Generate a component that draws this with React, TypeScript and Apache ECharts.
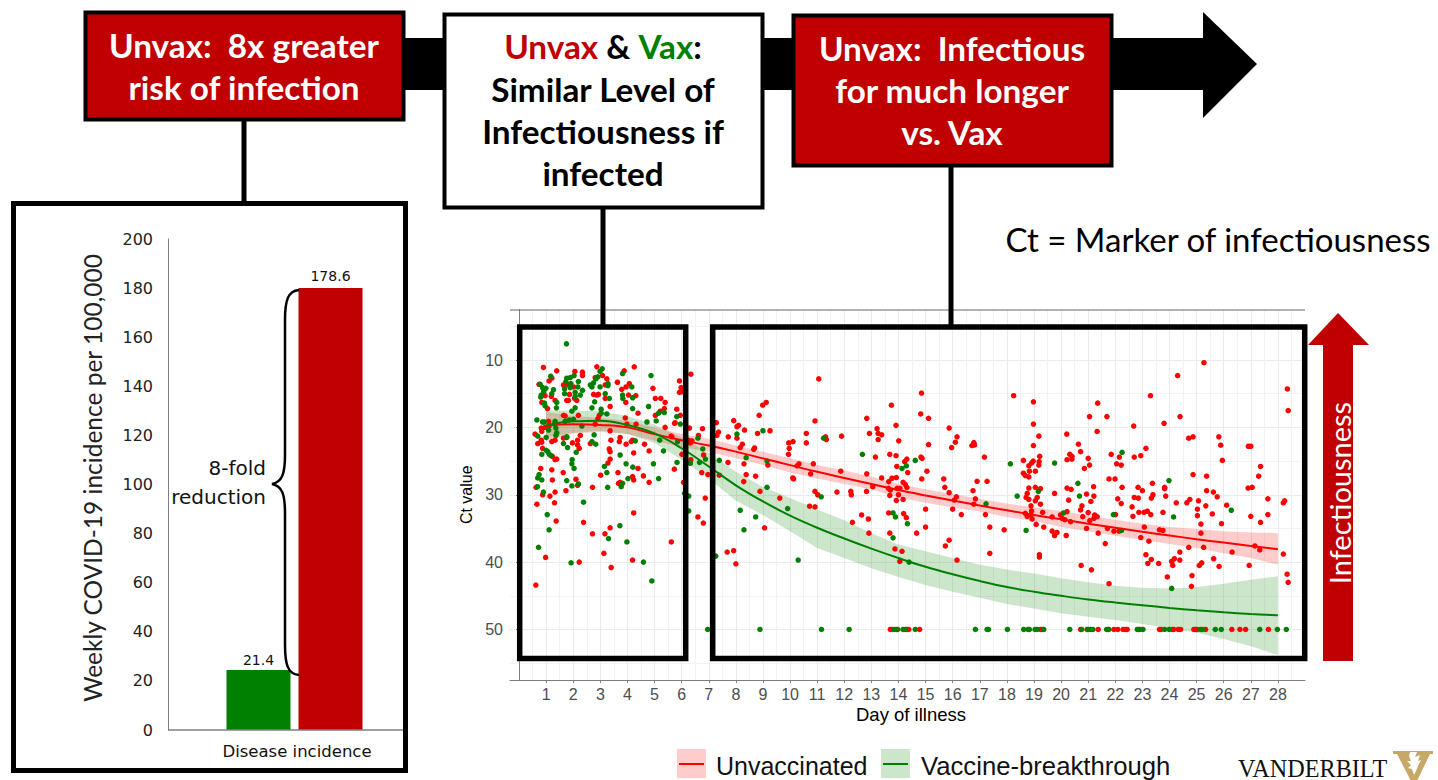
import React, { useEffect, useRef } from "react";
import * as echarts from "echarts";

const barCategories = ["Disease incidence"];
// Bar heights as drawn in the picture; the printed labels differ slightly.
const vaxBarHeight = [24.4];
const unvaxBarHeight = [180];
const vaxBarLabel = ["21.4"];
const unvaxBarLabel = ["178.6"];
const dayTicks = [1,2,3,4,5,6,7,8,9,10,11,12,13,14,15,16,17,18,19,20,21,22,23,24,25,26,27,28];
const dayMinor = [0.5,1.5,2.5,3.5,4.5,5.5,6.5,7.5,8.5,9.5,10.5,11.5,12.5,13.5,14.5,15.5,16.5,17.5,18.5,19.5,20.5,21.5,22.5,23.5,24.5,25.5,26.5,27.5,28.5];
const ctTicks = [10,20,30,40,50];
const ctMinor = [5,15,25,35,45,55];

const unvaxLine = [[1,19.7],[2,19.55],[3,19.65],[4,20],[5,21],[6,21.9],[7,22.7],[8,23.6],[9,24.6],[10,25.6],[11,26.6],[12,27.5],[13,28.4],[14,29.3],[15,30.1],[16,30.85],[17,31.6],[18,32.3],[19,33],[20,33.65],[21,34.3],[22,34.9],[23,35.5],[24,36.05],[25,36.6],[26,37.1],[27,37.6],[28,38.1]];
const vaxLine = [[1,19.7],[2,19.1],[3,19],[4,19.65],[5,20.9],[6,23.1],[7,25.8],[8,28.6],[9,31],[10,33.1],[11,34.9],[12,36.5],[13,38],[14,39.4],[15,40.7],[16,41.8],[17,42.8],[18,43.7],[19,44.4],[20,45],[21,45.55],[22,46],[23,46.4],[24,46.8],[25,47.15],[26,47.45],[27,47.7],[28,47.9]];
const unvaxBand = [[1,17.7,22.1],[2,18.3,20.9],[3,18.6,20.7],[4,19,21],[5,20,22],[6,21,22.9],[7,21.7,23.6],[8,22.7,24.6],[9,23.6,25.6],[10,24.6,26.7],[11,25.6,27.6],[12,26.4,28.4],[13,27.3,29.2],[14,28.4,30.4],[15,29.2,31.2],[16,29.9,31.9],[17,30.6,32.5],[18,31.3,33.3],[19,31.9,33.9],[20,32.4,34.8],[21,33.1,35.4],[22,33.7,36.1],[23,34.3,36.7],[24,34.8,37.3],[25,35.1,37.9],[26,35.4,38.7],[27,35.6,39.4],[28,35.7,40.4]];
const vaxBand = [[1,17.5,21.5],[2,17.5,20.8],[3,17.6,20.5],[4,18.3,21],[5,19.6,22.3],[6,21.5,24.8],[7,23.8,27.6],[8,26.6,30.9],[9,28.8,33],[10,30.5,35.4],[11,32.2,37.9],[12,33.8,39.4],[13,35.7,40.9],[14,37.4,42.2],[15,38.4,43.4],[16,39.4,44.4],[17,40.4,45.3],[18,41.1,46.2],[19,41.7,46.9],[20,42.4,47.6],[21,43,48.1],[22,43.5,48.6],[23,43.8,49.2],[24,43.9,49.8],[25,43.7,50.5],[26,43.2,51.4],[27,42.6,52.5],[28,42.1,53.8]];

const unvaxPoints = [
[0.9,11.1],[1.39,11.6],[1.21,12.7],[1.11,13.1],[0.74,13.6],[0.96,15.3],[1.19,15.4],[0.84,16.3],[1.05,17.2],[1.09,19.1],[1.11,19.75],[0.96,20],[0.82,20.1],[0.84,20.6],[0.59,21],[1.33,16],[2.06,11.7],[2.34,11.8],[2.34,12.3],[1.82,13.7],[1.64,13.7],[2.01,14],[1.86,15.1],[1.76,16],[1.82,16],[2.05,15.7],[2.13,16],[1.64,18.2],[1.7,18.3],[2.19,18.2],[2.87,11],[2.81,12.6],[3.08,12.3],[3.24,12.8],[3.18,13.7],[2.75,15.1],[2.93,15.1],[2.87,15.2],[3.18,15.7],[3.36,16.9],[2.96,18.2],[2.91,18.7],[2.81,19.5],[3.36,20.5],[3.92,18.6],[3.98,19.5],[3.88,11.6],[4.25,11],[3.63,13.3],[4.07,13.5],[3.95,14],[3.79,14.35],[4.31,15.3],[4.04,15.2],[3.94,16.3],[4.39,17.9],[4.94,14.2],[5.03,15.7],[5.03,18.2],[4.32,19.5],
[0.69,22.4],[0.84,22.2],[0.87,23.1],[0.82,21.9],[1.21,22.1],[1.33,21.9],[1.64,21.6],[1.76,21.5],[1.97,22.3],[2.16,21.9],[2.16,22.6],[2.22,23.1],[2.26,21.2],[3.39,21.9],[3.73,21.5],[3.7,22.1],[3.95,22.5],[4.14,22.1],[4.19,21.9],[4.63,22.5],[4.8,23.5],[4.23,23.8],[3.33,23.2],[3.36,23.6],[2.63,22.4],[1.23,24.3],[1.33,24.8],[1.39,24.7],[3.36,24.7],[3.28,25.3],[4.39,26.1],[0.8,26.1],[1.21,26.3],[1.63,26.7],[1.23,27.8],[2.1,27.7],[2.16,28.6],[3.01,27.1],[3.65,26.7],[4.19,27.3],[4.23,27.8],[4.59,27.2],[4.8,28.15],[3.67,28.3],[3.73,28.15],[2.71,28.9],[0.63,28.9],[1.33,29.6],[0.87,30],[1.14,30.2],[1.73,29.4],[0.66,31.4],[1.31,31.2],[1.37,33.9],[4.23,32.7],[2.38,34.1],[3.36,34.9],[2.71,35.8],[3.17,35.8],[5.62,37],[3.13,38.7],[0.98,39.3],[2.22,40],[4.19,39.7],[3.4,40.8],[0.62,43.4],[5.73,26.2],[6.01,24],[6.34,24.8],[6.07,28.15],[5.64,21.4],
[6.34,12.1],[5.92,13.1],[5.98,14.1],[5.92,14.8],[6.01,14.7],[5.23,15.7],[5.39,16.3],[5.21,17.6],[5.36,17.2],[5.82,17.3],[5.95,18.2],[5.76,19.3],[5.74,19.4],[5.39,20],[5.61,21.3],[6.29,20.1],[6.77,20.2],[6.62,21.2],[6.38,22],[6.25,21.9],[6.32,22.3],[7.28,19.3],[7.36,20.7],[7.3,21.2],[7.92,19],[8.1,19.7],[8.04,19.9],[8.32,20.4],[8.04,21.6],[7.72,21.4],[8.8,20.9],[9.26,20.5],[8.86,18.2],[8.99,16.7],[9.12,16.3],[11.06,12.8],[10.92,19.05],[10.6,20.9],[10.6,22.3],[9.95,22.3],[10.11,22.1],[9.97,23.1],[9.94,24],[11.31,21.4],[11.34,21.8],[11.9,21.3],[12.83,18.65],[12.93,20.9],[13.21,20.2],[13.25,20.9],[13.38,21.1],[13.25,21.8],[13.74,16.7],[13.91,19.7],[14.01,22],[13.15,24.4],[13.68,24],[13.91,24.2],[13.94,25.8],[8.24,22.5],[8.16,23],[8.66,23.25],[8.69,23.05],[10.33,25.4],[10.26,25.7],[10.86,25.4],[10.76,26.9],[11.87,26.5],[12.83,26.9],[13.38,27.5],[13.76,27.55],[13.64,28.05],[13.92,27.45],[10.1,27.5],[10.13,27.65],[7.71,25.2],[8.3,25.4],[9.18,25.6],[8.73,27.25],[8.38,27],[8.29,28.05],[7.39,27.1],[6.97,27],[6.74,26.7],[6.81,24.1],[13.05,28.8],[13.63,29.05],[13.7,29.3],[13.95,29.05],[14.05,29.05],[13.68,30.1],[14,30],[13.92,30.85],[12.82,29.5],[12.24,29.5],[12.26,30],[11.73,29.6],[10.92,29.5],[11.02,30],[8.89,29.5],[9.62,30.5],[6.87,30.5],[10.72,31.7],[10.92,31.8],[6.6,33.3],[6.8,34.2],[9.06,34.9],[12.3,34.1],[12.89,33.6],[12.64,33],[13.64,32.7],[12.91,35.7],[13.68,35.7],[13.87,38.05],[7.68,38.5],[7.92,38.3],[8,40.25],[14.05,39.9],
[14.82,18],[15.11,18.65],[15.87,20.1],[16.16,21.4],[16.1,22.2],[15.96,23],[15.11,22.55],[16.78,22.25],[16.71,22.7],[16.81,22.6],[17.17,24.4],[14.83,24.4],[14.87,24.6],[14.31,24.7],[14.23,25.1],[14.34,26.7],[15.05,26.5],[14.86,27.65],[14.17,28.15],[14.25,28.45],[14.31,28.9],[15.67,27.65],[15.71,28.9],[15.87,29.7],[16.9,28],[17.27,28],[16.75,29.4],[16.14,30.3],[16.06,30.8],[16.84,30.6],[16.78,31.4],[14.17,30.7],[16,32.15],[15,32.15],[16.32,32.95],[17.21,32.95],[14.19,32.8],[14.29,33.4],[15,34.8],[14.67,35.7],[17.37,34.8],[17.9,35.2],[15.87,36.75],[15.73,37.6],[14.13,38.4],[16.16,39.7],[17.37,38.7],[18.98,16.2],[21.05,18.4],[18.98,19.5],[19.18,21.3],[21.33,20.6],[20.21,21],[18.98,22.7],[20.64,22.5],[20.72,23.6],[20.32,24],[20.4,24.3],[20.4,24.7],[20.22,24.8],[19.21,24.3],[18.97,25],[18.91,25.3],[19.19,25.1],[19.18,25.6],[18.61,24.9],[18.81,25.7],[18.83,26.5],[19.05,26.5],[18.61,26.8],[18.68,27.15],[18.81,27.35],[21,24.6],[21.05,25.6],[20.86,26.1],[18.81,29],[19.05,28.9],[19.24,29.1],[18.75,29.8],[18.71,30.4],[18.81,30.7],[19.12,30.4],[19.05,30.9],[19.24,31.4],[18.89,31.65],[18.91,32.4],[18.68,32.75],[18.75,33.2],[18.89,33],[18.93,33.6],[19.32,32.6],[19.08,34.4],[19.36,34.8],[19.67,33.3],[19.98,33],[20.04,33.5],[20.14,33.7],[20.22,32.5],[20.28,30.8],[19.76,29.8],[20.22,29],[20.37,29.2],[20.94,29.9],[21.1,31],[21.2,28.8],[21.21,30.2],[20.77,31.65],[20.72,32.25],[20.8,33.25],[21,32.65],[21.24,33],[21.21,33.5],[21.06,33.85],[21.33,33.25],[20.94,35],[20.35,34],[21.37,35.7],[19.67,35.4],[19.85,35.6],[19.76,36.05],[20.19,36.05],[19.2,38.9],[19.2,39.25],[20.74,40.5],[21.12,41.15],
[21.69,18.4],[24.39,18.4],[28.38,17.5],[23.8,19.4],[22.68,19.8],[24.71,21.6],[24.87,21.4],[25.82,21.4],[25.89,22.65],[26.91,22.8],[27,22.8],[23.13,23.1],[21.85,24],[22.15,24.4],[22.7,24.4],[22.94,24.2],[25.95,24.9],[22.05,25.4],[22.22,25.6],[27.36,25.8],[24.87,27],[25.37,27.25],[27.29,27.25],[21.77,27.65],[21.99,27.65],[22.25,28.9],[22.84,28.9],[23,29.4],[23.37,28.3],[23.82,28.9],[23.82,29.1],[26.9,29],[27.05,28.9],[25.37,29.4],[25.62,29.6],[25.76,30.3],[23.86,30.2],[23.39,30],[23.33,30.5],[22.7,30.4],[22.85,30.5],[22.09,30.6],[22.22,31.3],[24.25,31.2],[24.64,31.2],[24.75,30.7],[25.07,30.9],[27.63,30.6],[28.2,31.2],[28.25,30.9],[22.62,31.8],[25.34,31.65],[26.11,31.55],[25.03,32.15],[22.87,32.6],[23.06,32.6],[23.18,32.45],[23.31,32.95],[23.76,32.6],[22.65,33.2],[25.03,33.1],[25.58,32.85],[27,33.2],[27.63,32.95],[27.36,34.1],[25.92,34.3],[25.16,34.35],[23.07,34.8],[23.63,35.2],[23.76,35.3],[21.71,35],[21.95,35.4],[22.14,35.4],[25.16,35.7],[22.94,36.35],[23.24,36.9],[21.63,37.25],[24.71,37.8],[25.26,37.8],[26.31,38.5],[27.15,37.6],[27.33,38.2],[28.2,38.8],[23.13,38.9],[23.33,39.6],[23.2,40.2],[23.6,40.2],[24.08,39.9],[24.18,39.5],[24.38,39.7],[24.38,38.5],[24.12,40.5],[25.1,40.5],[25.19,40.1],[25.63,39.5],[25.83,40.65],[26.94,40.5],[23.92,42.2],[24.83,42],[28.34,41.8],[28.38,43],[21.77,43.2],[24.81,43.6],[22.01,32.95],
[25.27,10.4],[24.3,12.3],[28.35,14.3],[23.3,15.3],[18.25,15.3],[14.85,14.9],[21.35,16.4]
];
const vaxPoints = [
[1.75,7.6],[1.17,12.4],[0.78,13.6],[0.87,14.1],[0.99,14.2],[0.91,14.7],[1.27,14.4],[0.82,15.2],[0.8,15.5],[1.21,15],[0.94,16.4],[0.96,16.8],[1.39,16.3],[1.38,17.1],[0.66,18.9],[0.87,19.2],[0.93,19.2],[1.33,19.1],[1.31,19.5],[1.36,20.1],[1.39,20.8],[1.09,20.4],[1.76,12.7],[1.89,12.6],[2.03,12.3],[1.73,13.2],[1.91,13.5],[1.68,14.3],[1.68,15],[2.19,13.2],[2.17,14],[2.34,14.5],[2.07,14.8],[2.26,15.2],[2.07,15.4],[1.89,14.1],[2.07,17.1],[1.95,17.6],[1.85,18.9],[1.7,19.1],[2.01,18.8],[2.32,19.8],[3.07,11.3],[2.99,11.7],[2.91,12.5],[2.83,12.8],[2.63,13.7],[2.75,13.4],[2.69,14],[2.99,14],[3.28,13.5],[3.28,13.8],[3.18,15],[3.33,15.7],[2.79,16.2],[2.69,17.1],[3.03,17.3],[3.24,18],[3.03,17.9],[3.82,12],[4.16,14],[3.82,15.2],[3.83,15.7],[4.19,15.6],[4.19,17.2],[4.87,12.3],[4.78,16.9],[4.72,19.2],
[0.69,21.3],[1,21.5],[1.36,21.2],[1.76,21.4],[1.64,22.4],[1.79,23],[2.11,23.7],[0.84,24],[1,23.4],[1.06,23.6],[1.12,24],[1.18,24.2],[2.69,22.1],[2.83,22.5],[2.77,21.1],[3.73,24.1],[4.29,22],[5.19,21.9],[5.85,22.1],[5.33,23.5],[5.83,25.2],[1.96,24.8],[1.95,25.4],[2.03,26.1],[3.15,25.8],[3.95,25.4],[4.2,25.9],[4.96,25.4],[3.24,26.7],[5.15,27.6],[4.02,27.6],[3.82,28.3],[3.77,28.8],[0.74,27],[0.69,27.5],[0.84,27.8],[0.68,28.8],[0.9,29.6],[1.76,27.9],[1.95,28.7],[2.19,28.4],[3.27,28.9],[2.38,31.1],[1.04,32.95],[1.11,35.2],[0.72,37.8],[3.72,34.6],[3.3,36.5],[3.98,37],[1.92,40.1],[4.59,40],[4.9,42.8],[6.11,29.8],[6.26,30.2],[6.26,32.4],[6.32,25.3],
[6.78,23.2],[6.88,24.7],[6.6,21.6],[6.32,25.3],[6.66,25.2],[7.39,24.9],[8.04,21],[9,20.5],[8.38,24.5],[9.15,25],[9.15,28.9],[8.16,32.3],[8.73,33.3],[8.3,35.2],[9.91,32.05],[11.15,30.3],[11.24,21.6],[12.67,24],[13.8,32.7],[13.89,33.3],[13.8,36.4],[10.3,39.7],[7.26,39.1],[5.15,17.9],[5.36,17.8],[5.82,18.4],[5.95,19.5],[5.06,19.05],
[14.62,24.9],[14.29,25.7],[14.13,26.1],[17.23,31.35],[18.13,25.4],[19.76,25.3],[20.62,28.3],[20.68,30.2],[18.38,30.2],[19.16,29.5],[20.09,32.7],[18.71,35.3],[14.33,34.3],[14.39,40],
[22.25,23.7],[23.98,27.9],[21.93,32.95],[24.15,33.3],[26.28,32.3],[22.23,35.3],[24.08,43.9]
];
const undetectedCt = 50;
const unvaxUndetectedDays = [13.7,13.77,13.97,14.31,14.38,14.78,19.24,19.3,20.72,20.96,21.37,21.74,21.95,22.09,22.29,22.38,22.44,22.87,23.63,23.69,24.1,24.16,24.32,24.41,24.9,24.96,25.02,25.33,26.3,26.6,26.81,27.65];
const vaxUndetectedDays = [6.96,8.89,11.16,12.18,13.86,13.92,14.17,14.25,14.62,16.84,17.27,17.32,18.02,18.62,18.78,18.83,19.04,19.12,19.36,20.32,20.76,20.99,21.08,21.17,21.68,21.76,22.81,22.91,23.02,23.82,23.99,25.15,25.21,25.69,25.91,27.33,27.98,28.31];

const RED = "#c00000";
const LATO = "Lato";
const SANS = "Liberation Sans";
const DEJAVU = "DejaVu Sans";
const HEAD = 33.3;

echarts.graphic.registerShape("brace", echarts.graphic.extendPath(
  "M299 290 C288 291 285 300 285 320 L285 455 C285 474 282 482 272 484 C282 486 285 494 285 513 L285 645 C285 665 288 674 299 675", {}));
echarts.graphic.registerShape("vlogo", echarts.graphic.extendPath(
  "M1393 751 L1433 751 L1433 754 L1430 754 L1417 781 L1411 781 L1397 754 L1393 754 Z", {}));
echarts.graphic.registerShape("leaf", echarts.graphic.extendPath(
  "M1410 752 L1417 752 L1415 757 L1420 755 L1418 761 L1421 760 L1418 766 L1416 771 L1414 775 L1412 769 L1408 768 L1411 765 L1407 761 L1411 761 L1409 756 Z", {}));

const txt = (text: string, x: number, y: number, fontSize: number, fontFamily: string, fill: string, extra: any = {}, el: any = {}) => ({
  type: "text", x, y, z: 120, silent: true, ...el,
  style: { text, fontSize, fontFamily, fill, align: "center", verticalAlign: "middle", ...extra },
});
const box = (x: number, y: number, width: number, height: number, fill: string, lineWidth = 4, z = 110) => ({
  type: "rect", z, silent: true, shape: { x, y, width, height },
  style: { fill, stroke: "#000", lineWidth },
});
const seg = (x1: number, y1: number, x2: number, y2: number, stroke: string, lineWidth: number, z = 105) => ({
  type: "line", z, silent: true, shape: { x1, y1, x2, y2 }, style: { stroke, lineWidth },
});

const bandSeries = (name: string, band: number[][], fill: string) => ({
  type: "custom", name, xAxisIndex: 1, yAxisIndex: 1, z: 3, silent: true,
  data: band, encode: { x: 0, y: [1, 2] },
  renderItem: (params: any, api: any) => {
    if (params.dataIndexInside !== 0) return null;
    const top = band.map((r) => api.coord([r[0], r[1]]));
    const bottom = band.map((r) => api.coord([r[0], r[2]])).reverse();
    return { type: "polygon", shape: { points: top.concat(bottom) }, style: { fill, opacity: 0.2 } };
  },
});
const dotSeries = (name: string, pts: number[][], color: string, size: number, z: number) => ({
  type: "scatter", name, xAxisIndex: 1, yAxisIndex: 1, z, symbolSize: size, data: pts, silent: true,
  itemStyle: { color, opacity: 1 },
});
const lineSeries = (name: string, pts: number[][], color: string) => ({
  type: "line", name, xAxisIndex: 1, yAxisIndex: 1, z: 8, data: pts, smooth: 0.4, showSymbol: false, silent: true,
  lineStyle: { color, width: 2 },
});

const option: any = {
  animation: false,
  backgroundColor: "#fff",
  grid: [
    { left: 168, top: 239, width: 253, height: 491, containLabel: false },
    { left: 510, top: 309.5, width: 795, height: 370.5, containLabel: false },
  ],
  xAxis: [
    { gridIndex: 0, type: "category", data: barCategories, axisLine: { show: false }, axisTick: { show: false },
      axisLabel: { color: "#111", fontFamily: DEJAVU, fontSize: 16.5, margin: 13, padding: [0, 0, 0, 5] } },
    { gridIndex: 1, type: "value", min: -1 / 3, max: 29,
      axisLine: { lineStyle: { color: "#7f7f7f", width: 1 } },
      axisTick: { length: 3, lineStyle: { color: "#7f7f7f" }, customValues: dayTicks },
      axisLabel: { color: "#4d4d4d", fontFamily: SANS, fontSize: 16, margin: 6, customValues: dayTicks },
      splitLine: { show: true, lineStyle: { color: "#ebebeb", width: 1 } },
      name: "Day of illness", nameLocation: "middle", nameGap: 25,
      nameTextStyle: { color: "#000", fontFamily: SANS, fontSize: 18.5, padding: [0, 0, 0, 7] } },
    { gridIndex: 1, type: "value", min: -1 / 3, max: 29,
      axisLine: { show: false }, axisLabel: { show: false },
      axisTick: { show: false, customValues: dayMinor },
      splitLine: { show: true, lineStyle: { color: "#f3f3f3", width: 1 } } },
  ],
  yAxis: [
    { gridIndex: 0, type: "value", min: 0, max: 200, interval: 20,
      axisLine: { show: true, lineStyle: { color: "#7f7f7f", width: 1 } }, axisTick: { show: false }, splitLine: { show: false },
      axisLabel: { color: "#222", fontFamily: DEJAVU, fontSize: 16, margin: 15 } },
    { gridIndex: 1, type: "value", inverse: true, min: 2.5, max: 57.5,
      axisLine: { show: true, lineStyle: { color: "#7f7f7f", width: 1 } },
      axisTick: { show: true, length: 3, lineStyle: { color: "#7f7f7f" }, customValues: ctTicks },
      axisLabel: { color: "#4d4d4d", fontFamily: SANS, fontSize: 16, margin: 7, customValues: ctTicks },
      splitLine: { show: true, lineStyle: { color: "#ebebeb", width: 1 } },
      name: "Ct value", nameLocation: "middle", nameGap: 26,
      nameTextStyle: { color: "#000", fontFamily: SANS, fontSize: 16 } },
    { gridIndex: 1, type: "value", inverse: true, min: 2.5, max: 57.5,
      axisLine: { show: false }, axisLabel: { show: false },
      axisTick: { show: false, customValues: ctMinor },
      splitLine: { show: true, lineStyle: { color: "#f3f3f3", width: 1 } } },
  ],
  series: [
    { type: "bar", name: "Vaccine-breakthrough", xAxisIndex: 0, yAxisIndex: 0, data: vaxBarHeight, barWidth: 64, barGap: "12.5%", silent: true,
      itemStyle: { color: "#008000" },
      label: { show: true, position: "top", distance: 3, color: "#111", fontFamily: DEJAVU, fontSize: 14, formatter: () => vaxBarLabel[0] } },
    { type: "bar", name: "Unvaccinated", xAxisIndex: 0, yAxisIndex: 0, data: unvaxBarHeight, barWidth: 64, silent: true,
      itemStyle: { color: RED },
      label: { show: true, position: "top", distance: 5, color: "#111", fontFamily: DEJAVU, fontSize: 14, formatter: () => unvaxBarLabel[0] } },
    bandSeries("Unvaccinated band", unvaxBand, "#ff0000"),
    bandSeries("Vaccine-breakthrough band", vaxBand, "#008000"),
    dotSeries("Unvaccinated points", unvaxPoints, "#ff0000", 5.5, 5),
    dotSeries("Unvaccinated Ct 50", unvaxUndetectedDays.map((d) => [d, undetectedCt]), "#ff0000", 5.5, 5),
    dotSeries("Vaccine-breakthrough points", vaxPoints, "#008000", 5.5, 6),
    dotSeries("Vaccine-breakthrough Ct 50", vaxUndetectedDays.map((d) => [d, undetectedCt]), "#008000", 5.5, 6),
    lineSeries("Unvaccinated line", unvaxLine, "#ff0000"),
    lineSeries("Vaccine-breakthrough line", vaxLine, "#008000"),
  ],
  graphic: { elements: [
    // plot frame pieces
    seg(510, 310, 1305, 310, "#666", 1, 4),
    seg(168, 730, 403, 730, "#7f7f7f", 1.5, 4),
    // big timeline arrow
    { type: "polygon", z: 100, silent: true, shape: { points: [[405, 38], [1203, 38], [1203, 12], [1257, 64], [1203, 118], [1203, 90], [405, 90]] }, style: { fill: "#000" } },
    // connectors
    seg(244, 120, 244, 204, "#000", 5),
    seg(603, 208, 603, 326, "#000", 5),
    seg(951, 166, 951, 326, "#000", 5),
    // top boxes
    box(85.5, 12.5, 318, 107, RED),
    box(444.5, 14.5, 318, 193, "#fff"),
    box(793.5, 15.5, 318, 150, RED),
    // panels
    box(13.5, 203.5, 392, 567, "transparent", 5),
    box(519.7, 327, 166, 331.5, "transparent", 5.5),
    box(712.7, 327, 592, 331.5, "transparent", 5.5),
    // box texts
    txt("Unvax:  8x greater", 244, 45, HEAD, LATO, "#fff", { fontWeight: "bold" }),
    txt("risk of infection", 244, 87, HEAD, LATO, "#fff", { fontWeight: "bold" }),
    txt("{r|Unvax} & {g|Vax}:", 603, 46, HEAD, LATO, "#000", { fontWeight: "bold", rich: {
      r: { fontSize: HEAD, fontFamily: LATO, fontWeight: "bold", fill: RED, color: RED },
      g: { fontSize: HEAD, fontFamily: LATO, fontWeight: "bold", fill: "#008000", color: "#008000" } } }),
    txt("Similar Level of", 603, 89, HEAD, LATO, "#000", { fontWeight: "bold" }),
    txt("Infectiousness if", 603, 131, HEAD, LATO, "#000", { fontWeight: "bold" }),
    txt("infected", 603, 173, HEAD, LATO, "#000", { fontWeight: "bold" }),
    txt("Unvax:  Infectious", 952, 48, HEAD, LATO, "#fff", { fontWeight: "bold" }),
    txt("for much longer", 952, 90, HEAD, LATO, "#fff", { fontWeight: "bold" }),
    txt("vs. Vax", 952, 132, HEAD, LATO, "#fff", { fontWeight: "bold" }),
    txt("Ct = Marker of infectiousness", 1218, 239, 33, LATO, "#000"),
    // left panel annotations
    txt("Weekly COVID-19 incidence per 100,000", 92, 478, 24.5, LATO, "#222", {}, { rotation: Math.PI / 2 }),
    { type: "brace", z: 115, silent: true, style: { fill: "none", stroke: "#000", lineWidth: 2.5 } },
    txt("8-fold", 266, 468, 20, DEJAVU, "#111", { align: "right" }),
    txt("reduction", 266, 497, 20, DEJAVU, "#111", { align: "right" }),
    // infectiousness arrow
    { type: "polygon", z: 100, silent: true, shape: { points: [[1323, 661], [1323, 345], [1308, 345], [1338, 313], [1369, 345], [1353, 345], [1353, 661]] }, style: { fill: RED } },
    txt("Infectiousness", 1339, 493, 29, LATO, "#fff", {}, { rotation: Math.PI / 2 }),
    // legend
    { type: "rect", z: 100, silent: true, shape: { x: 677, y: 749, width: 29, height: 29 }, style: { fill: "#ffcccc" } },
    seg(679, 764, 704, 764, "#ff0000", 2, 101),
    txt("Unvaccinated", 716, 766, 25, SANS, "#111", { align: "left" }),
    { type: "rect", z: 100, silent: true, shape: { x: 881, y: 749, width: 29, height: 29 }, style: { fill: "#cce6cc" } },
    seg(883, 764, 908, 764, "#008000", 2, 101),
    txt("Vaccine-breakthrough", 921, 766, 25.7, SANS, "#111", { align: "left" }),
    // Vanderbilt mark
    txt("VANDERBILT", 1238, 768, 24.2, "Liberation Serif", "#111", { align: "left" }),
    { type: "vlogo", z: 100, silent: true, style: { fill: "#c8a866" } },
    { type: "leaf", z: 101, silent: true, style: { fill: "#fff" } },
  ] },
};

export default function App() {
  const ref = useRef<HTMLDivElement>(null);
  useEffect(() => {
    document.body.style.margin = "0";
    const chart = echarts.init(ref.current!, undefined, { renderer: "svg" });
    chart.setOption(option);
    return () => chart.dispose();
  }, []);
  return <div ref={ref} style={{ position: "fixed", left: 0, top: 0, width: 1438, height: 780 }} />;
}
